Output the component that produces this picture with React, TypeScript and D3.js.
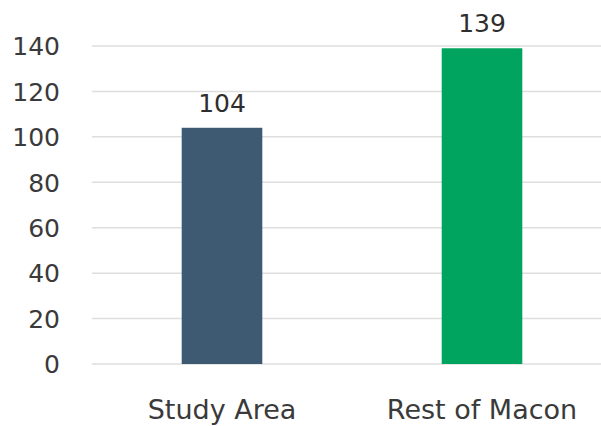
import React from "react";
import * as d3 from "d3";

const categories = ["Study Area", "Rest of Macon"];
const values = [104, 139];
const barColors = ["#3d5a72", "#00a45f"];
const yTicks = [0, 20, 40, 60, 80, 100, 120, 140];

export default function App() {
  const width = 601;
  const height = 426;
  const x = d3
    .scaleBand<string>()
    .domain(categories)
    .range([92, 612])
    .paddingInner(0.69)
    .paddingOuter(0.345);
  const y = d3.scaleLinear().domain([0, 140]).range([364, 46]);
  const font = "'DejaVu Sans', 'Open Sans', sans-serif";
  return (
    <svg
      width={width}
      height={height}
      style={{ position: "absolute", left: 0, top: 0, background: "#fff" }}
      fontFamily={font}
    >
      {yTicks.map((t) => (
        <g key={t}>
          <line x1={92} x2={601} y1={y(t)} y2={y(t)} stroke="#dedede" strokeWidth={1.5} />
          <text x={60} y={y(t)} dy="0.37em" textAnchor="end" fontSize={25} fill="#3a3a3a">
            {t}
          </text>
        </g>
      ))}
      {categories.map((c, i) => (
        <g key={c}>
          <rect
            x={x(c)!}
            y={y(values[i])}
            width={x.bandwidth()}
            height={y(0) - y(values[i])}
            fill={barColors[i]}
          />
          <text
            x={x(c)! + x.bandwidth() / 2}
            y={y(values[i]) - 16}
            textAnchor="middle"
            fontSize={25}
            fill="#2e2e2e"
          >
            {values[i]}
          </text>
          <text
            x={x(c)! + x.bandwidth() / 2}
            y={419}
            textAnchor="middle"
            fontSize={27}
            fill="#3a3a3a"
          >
            {c}
          </text>
        </g>
      ))}
    </svg>
  );
}
